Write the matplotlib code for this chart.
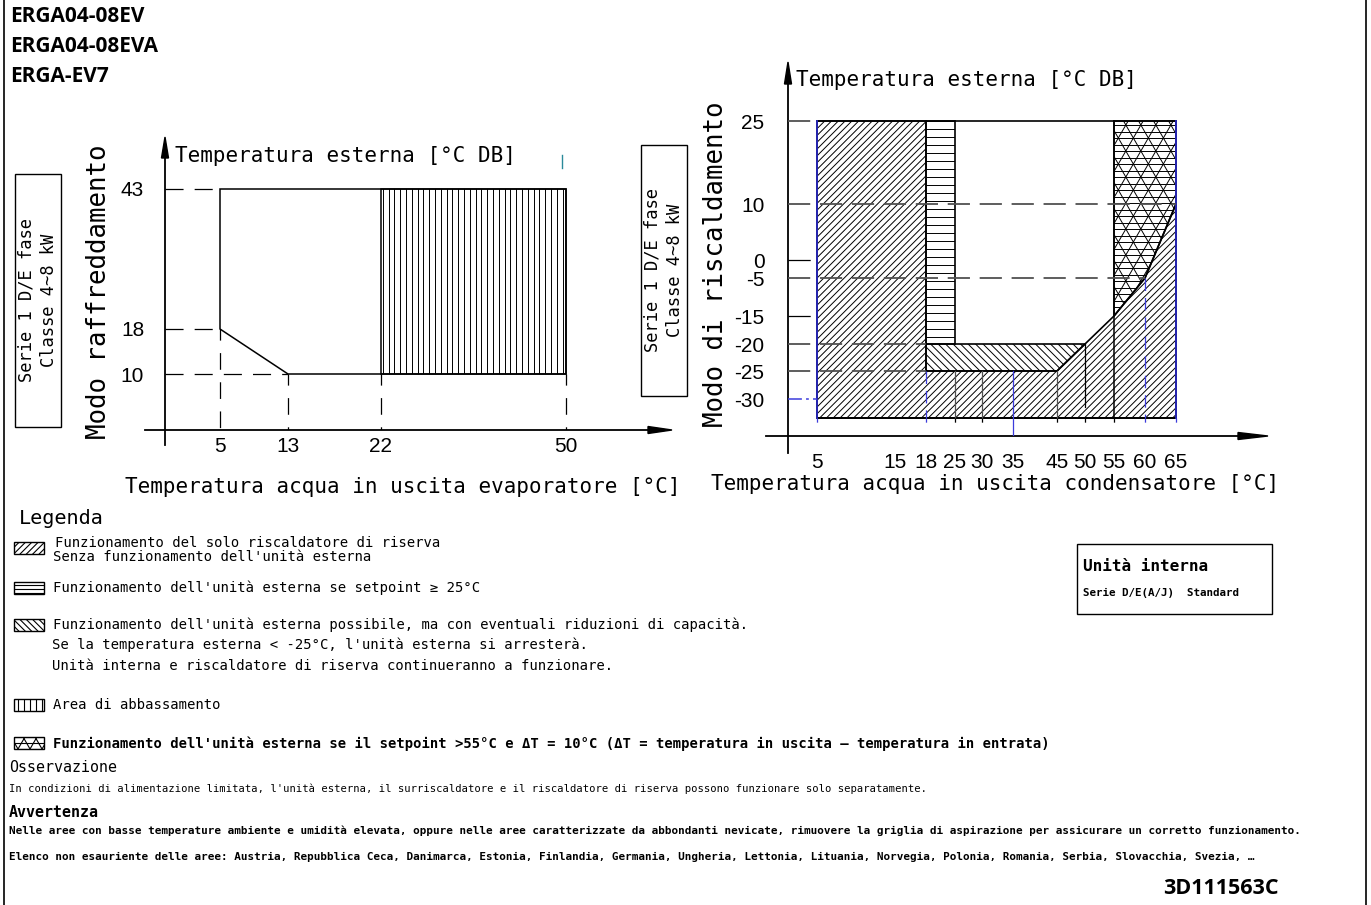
import numpy as np
import matplotlib.pyplot as plt
from matplotlib.patches import Polygon, Rectangle
from matplotlib.collections import LineCollection
from matplotlib.transforms import IdentityTransform

W, H, DPI = 1371, 905, 100
plt.rcParams['lines.scale_dashes'] = False
plt.rcParams['font.family'] = ['Liberation Sans', 'DejaVu Sans']
MONO = 'DejaVu Sans Mono'
BLUE = '#3c3cdc'
DARKBLUE = '#2424b0'
GREY = '#505050'

# ---- cooling mode: water leaving evaporator vs outdoor temperature ----
cool_x_ticks = [5, 13, 22, 50]
cool_y_ticks = [10, 18, 43]
cool_env_water = [5, 50, 50, 13, 5]
cool_env_amb = [43, 43, 10, 10, 18]
pulldown_water = [22, 50]
pulldown_amb = [10, 43]

# ---- heating mode: water leaving condenser vs outdoor temperature ----
heat_x_ticks = [5, 15, 18, 25, 30, 35, 45, 50, 55, 60, 65]
heat_y_ticks = [25, 10, 0, -5, -15, -20, -25, -30]
heat_floor = -35
backup_water = [5, 5, 18, 18, 45, 50, 55, 60, 65, 65]
backup_amb = [heat_floor, 25, 25, -25, -25, -20, -15, -5, 10, heat_floor]
sp25_water = [18, 25]
sp25_amb = [-20, 25]
reduced_water = [18, 50, 45, 18]
reduced_amb = [-20, -20, -25, -25]
dt10_water = [55, 65, 65, 60, 55]
dt10_amb = [25, 25, 10, -5, -15]

# schematic (non-proportional) axis layout, in pixels
cool_xk = ([0, 5, 13, 22, 50, 66], [165, 220, 288, 381, 566, 672])
cool_yk = ([0, 10, 18, 43, 51.5], [430, 374, 329, 189, 143])
heat_xk = ([0, 5, 15, 18, 25, 30, 35, 45, 50, 55, 60, 65, 80],
           [788, 817, 895, 926, 955, 982, 1013, 1057, 1085, 1114, 1145, 1176, 1268])
heat_yk = ([-40, -35, -30, -25, -20, -15, -5, 0, 10, 25, 35],
           [436, 418, 399, 371, 344, 316, 278, 260, 204, 121, 62])


def schematic_axes(fig, xk, yk):
    xv, xp = np.asarray(xk[0], float), np.asarray(xk[1], float)
    yv, yp = np.asarray(yk[0], float), H - np.asarray(yk[1], float)
    ax = fig.add_axes([xp[0] / W, yp[0] / H, (xp[-1] - xp[0]) / W, (yp[-1] - yp[0]) / H])
    ax.set_xscale('function', functions=(lambda v: np.interp(v, xv, xp), lambda p: np.interp(p, xp, xv)))
    ax.set_yscale('function', functions=(lambda v: np.interp(v, yv, yp), lambda p: np.interp(p, yp, yv)))
    ax.set_xlim(xv[0], xv[-1])
    ax.set_ylim(yv[0], yv[-1])
    ax.patch.set_alpha(0)
    for s in ax.spines.values():
        s.set_visible(False)
    return ax


def hatch(ax, patch, angle, step, lw=0.7, color='black'):
    # parallel lines in pixel space, clipped to the patch outline
    ext = patch.get_window_extent()
    t = np.radians(angle)
    d = np.array([np.cos(t), np.sin(t)])
    n = np.array([-np.sin(t), np.cos(t)])
    corners = np.array([[ext.x0, ext.y0], [ext.x0, ext.y1], [ext.x1, ext.y0], [ext.x1, ext.y1]])
    proj = corners @ n
    c = np.array([(ext.x0 + ext.x1) / 2, (ext.y0 + ext.y1) / 2])
    L = np.hypot(ext.width, ext.height)
    segs = []
    for k in np.arange(np.floor(proj.min() / step) * step, proj.max() + step, step):
        p = n * k + d * (c @ d)
        segs.append([p - d * L, p + d * L])
    lc = LineCollection(segs, colors=color, linewidths=lw, transform=IdentityTransform())
    ax.add_collection(lc, autolim=False)
    lc.set_clip_path(patch)


def region(ax, xs, ys, lw=1.1, edge='black'):
    p = Polygon(np.column_stack([xs, ys]), closed=True, facecolor='none', edgecolor=edge, lw=lw, zorder=3)
    ax.add_patch(p)
    return p


fig = plt.figure(figsize=(W / DPI, H / DPI), dpi=DPI)
ov = fig.add_axes([0, 0, 1, 1], zorder=-1)
ov.set_xlim(0, W)
ov.set_ylim(H, 0)
ov.axis('off')

# frame
ov.plot([4, 4], [0, H], color='black', lw=1.2)
ov.plot([1366, 1366], [0, H], color='black', lw=1.2)

for y, s in zip([17, 47, 76], ['ERGA04-08EV', 'ERGA04-08EVA', 'ERGA-EV7']):
    ov.text(10, y, s, fontsize=15, fontweight='bold', family='Open Sans', va='center')

# ---------------- cooling chart ----------------
axc = schematic_axes(fig, cool_xk, cool_yk)
axc.set_xticks(cool_x_ticks, labels=[str(v) for v in cool_x_ticks])
axc.set_yticks(cool_y_ticks, labels=[str(v) for v in cool_y_ticks])
axc.tick_params(length=0, labelsize=15)
axc.tick_params(axis='x', pad=5)
axc.tick_params(axis='y', pad=15)

pd = Rectangle((pulldown_water[0], pulldown_amb[0]), pulldown_water[1] - pulldown_water[0],
               pulldown_amb[1] - pulldown_amb[0], facecolor='none', edgecolor='black', lw=1.1, zorder=3)
axc.add_patch(pd)
hatch(axc, pd, 90, 5.8, lw=0.7)
region(axc, cool_env_water, cool_env_amb)

dash = (0, (13, 8))
for y, xe in [(43, 5), (18, 5), (10, 13)]:
    axc.plot([0, xe], [y, y], color='black', lw=0.9, ls=dash)
for x, ys in [(5, 18), (13, 10), (22, 10), (50, 10)]:
    axc.plot([x, x], [ys, 0], color='black', lw=0.9, ls=(4, (12, 9)))

# axes arrows
ov.plot([165, 165], [150, 445], color='black', lw=1.3)
ov.fill([161.5, 165, 168.5], [158, 137, 158], color='black')
ov.plot([145, 655], [430, 430], color='black', lw=1.3)
ov.fill([648, 672, 648], [426.5, 430, 433.5], color='black')
ov.plot([562, 562], [155, 168], color='#2a8a9a', lw=1)

ov.text(175, 156, 'Temperatura esterna [°C DB]', family=MONO, fontsize=15, va='center')
ov.text(99, 292, 'Modo raffreddamento', family=MONO, fontsize=18.5, rotation=90, ha='center', va='center')
ov.text(403, 487, 'Temperatura acqua in uscita evaporatore [°C]', family=MONO, fontsize=15,
        ha='center', va='center')

for x0, y0, x1, y1, cy in [(15, 174, 61, 427, 300), (641, 145, 687, 396, 270)]:
    ov.add_patch(Rectangle((x0, y0), x1 - x0, y1 - y0, facecolor='none', edgecolor='black', lw=1))
    ov.text((x0 + x1) / 2, cy, 'Serie 1 D/E fase\nClasse 4~8 kW', family=MONO, fontsize=12.3,
            rotation=90, ha='center', va='center', multialignment='center', linespacing=1.3)

# ---------------- heating chart ----------------
axh = schematic_axes(fig, heat_xk, heat_yk)
axh.set_xticks(heat_x_ticks, labels=[str(v) for v in heat_x_ticks])
axh.set_yticks(heat_y_ticks, labels=[str(v) for v in heat_y_ticks])
axh.tick_params(length=0, labelsize=15)
axh.tick_params(axis='x', pad=12)
axh.tick_params(axis='y', pad=17)

p_back = region(axh, backup_water, backup_amb, lw=1.2)
hatch(axh, p_back, 45, 4.8)
p_sp = Rectangle((sp25_water[0], sp25_amb[0]), sp25_water[1] - sp25_water[0], sp25_amb[1] - sp25_amb[0],
                 facecolor='none', edgecolor='black', lw=1.2, zorder=3)
axh.add_patch(p_sp)
hatch(axh, p_sp, 0, 8.0)
p_red = region(axh, reduced_water, reduced_amb, lw=1.2)
hatch(axh, p_red, 135, 5.3)
p_dt = region(axh, dt10_water, dt10_amb, lw=1.2)
hatch(axh, p_dt, 0, 6.5)
hatch(axh, p_dt, 60, 13.0)
hatch(axh, p_dt, 120, 13.0)

# chart box
axh.plot([5, 65], [25, 25], color='black', lw=1.2, zorder=4)
axh.plot([5, 65], [heat_floor, heat_floor], color='black', lw=1.4, zorder=4)
axh.plot([5, 5], [heat_floor, 25], color=DARKBLUE, lw=1.4, zorder=4)
axh.plot([65, 65], [heat_floor, 25], color=DARKBLUE, lw=1.4, zorder=4)
axh.plot([55, 55], [heat_floor, 25], color='black', lw=1.1, zorder=4)

# guide lines
gdash = (0, (16, 7))
for y, xe, col in [(25, 5, GREY), (10, 65, GREY), (-5, 60, GREY), (-20, 18, GREY), (-25, 18, GREY),
                   (0, 5, 'black'), (-15, 5, 'black')]:
    axh.plot([0, xe], [y, y], color=col, lw=1.3 if col == GREY else 0.9, ls=gdash, zorder=5)
axh.plot([0, 5], [-30, -30], color=BLUE, lw=1.1, ls=(0, (10, 3, 2, 3)), zorder=5)

for x, ys, col, ls in [(18, -25, BLUE, (0, (9, 5))), (25, -25, GREY, '-'), (30, -25, GREY, '-'),
                       (45, -25, GREY, '-'), (60, -5, BLUE, (0, (9, 5)))]:
    axh.plot([x, x], [ys, heat_floor], color=col, lw=0.9, ls=ls, zorder=4)
axh.plot([50, 50], [-20, -32], color='black', lw=0.9, zorder=4)
axh.plot([35, 35], [-25, -40], color=BLUE, lw=0.9, zorder=4)
for x in [5, 18, 25, 30, 45, 50, 55, 60, 65]:
    col = BLUE if x in (5, 18, 60, 65) else 'black'
    axh.plot([x, x], [heat_floor, -40], color=col, lw=0.9, ls=(5, (8, 10)), zorder=4)

ov.plot([788, 788], [70, 453], color='black', lw=1.3)
ov.fill([784.5, 788, 791.5], [84, 62, 84], color='black')
ov.plot([766, 1245], [436, 436], color='black', lw=1.3)
ov.fill([1238, 1268, 1238], [432.5, 436, 439.5], color='black')

ov.text(796, 80, 'Temperatura esterna [°C DB]', family=MONO, fontsize=15, va='center')
ov.text(716, 264, 'Modo di riscaldamento', family=MONO, fontsize=18.5, rotation=90, ha='center', va='center')
ov.text(995, 484, 'Temperatura acqua in uscita condensatore [°C]', family=MONO, fontsize=15,
        ha='center', va='center')

# ---------------- legend ----------------
ov.text(19, 518, 'Legenda', family=MONO, fontsize=14.5, va='center')


def icon(y, patterns):
    r = Rectangle((14, y - 6), 30, 12, facecolor='none', edgecolor='black', lw=1)
    ov.add_patch(r)
    for ang, step in patterns:
        hatch(ov, r, ang, step, lw=0.8)


icon(548, [(45, 4.5)])
icon(588, [(0, 4.0)])
icon(625, [(135, 4.5)])
icon(705, [(90, 6.0)])
icon(743, [(0, 6.0), (60, 10.4), (120, 10.4)])

lt = dict(family=MONO, fontsize=10, va='center')
ov.text(55, 543, 'Funzionamento del solo riscaldatore di riserva', **lt)
ov.text(53, 557, "Senza funzionamento dell'unità esterna", **lt)
ov.text(53, 588, "Funzionamento dell'unità esterna se setpoint ≥ 25°C", **lt)
ov.text(53, 625, "Funzionamento dell'unità esterna possibile, ma con eventuali riduzioni di capacità.", **lt)
ov.text(52, 645, "Se la temperatura esterna < -25°C, l'unità esterna si arresterà.", **lt)
ov.text(52, 666, 'Unità interna e riscaldatore di riserva continueranno a funzionare.', **lt)
ov.text(53, 705, 'Area di abbassamento', **lt)
ov.text(53, 744, "Funzionamento dell'unità esterna se il setpoint >55°C e ΔT = 10°C "
        "(ΔT = temperatura in uscita – temperatura in entrata)", fontweight='bold', **lt)

ov.text(9, 767, 'Osservazione', family=MONO, fontsize=10.8, va='center')
ov.text(9, 789, "In condizioni di alimentazione limitata, l'unità esterna, il surriscaldatore e il "
        "riscaldatore di riserva possono funzionare solo separatamente.", family=MONO, fontsize=7.6, va='center')
ov.text(9, 812, 'Avvertenza', family=MONO, fontsize=10.8, fontweight='bold', va='center')
ov.text(9, 831, "Nelle aree con basse temperature ambiente e umidità elevata, oppure nelle aree caratterizzate "
        "da abbondanti nevicate, rimuovere la griglia di aspirazione per assicurare un corretto funzionamento.",
        family=MONO, fontsize=7.9, fontweight='bold', va='center')
ov.text(9, 857, "Elenco non esauriente delle aree: Austria, Repubblica Ceca, Danimarca, Estonia, Finlandia, "
        "Germania, Ungheria, Lettonia, Lituania, Norvegia, Polonia, Romania, Serbia, Slovacchia, Svezia, …",
        family=MONO, fontsize=7.9, fontweight='bold', va='center')

ov.add_patch(Rectangle((1077, 544), 195, 70, facecolor='none', edgecolor='black', lw=1))
ov.text(1083, 566, 'Unità interna', family=MONO, fontsize=11.5, fontweight='bold', va='center')
ov.text(1083, 593, 'Serie D/E(A/J)  Standard', family=MONO, fontsize=7.8, fontweight='bold', va='center')

ov.text(1279, 888, '3D111563C', family='Open Sans', fontsize=15.5, fontweight='bold', ha='right', va='center')

fig.savefig('out.png', dpi=DPI)
